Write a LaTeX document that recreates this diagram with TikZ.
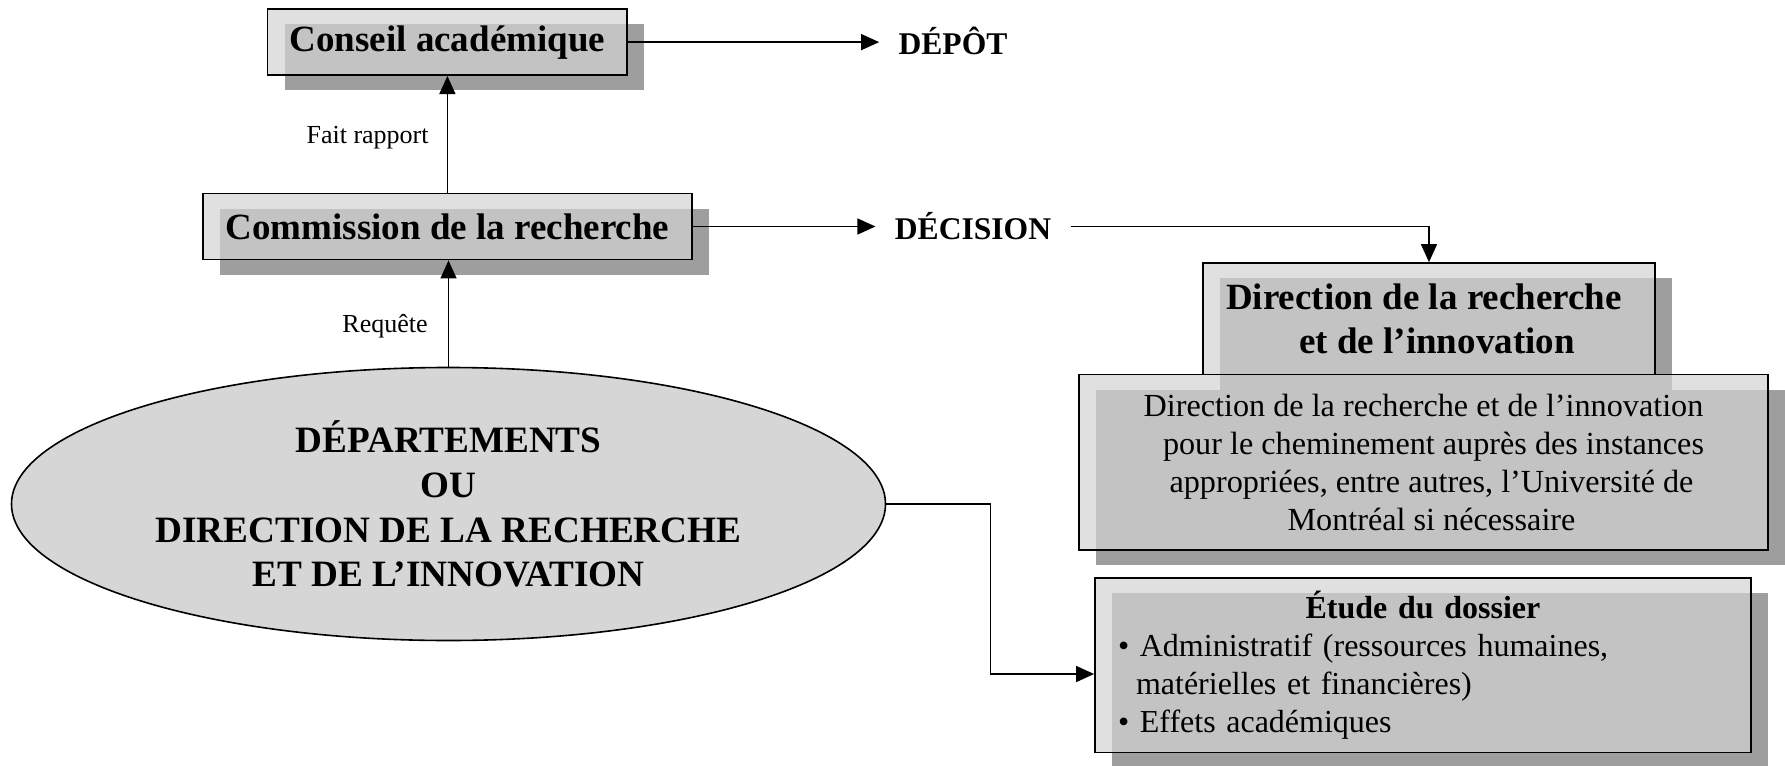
\documentclass[tikz,border=0pt]{standalone}
\usepackage{fontspec}
\setmainfont{Liberation Serif}
\usetikzlibrary{shapes.geometric,shadows,arrows.meta}
\definecolor{boxfill}{RGB}{211,211,211}
\definecolor{shadowgray}{RGB}{158,158,158}
\definecolor{ellfill}{RGB}{214,214,214}
\begin{document}
\begin{tikzpicture}[x=0.5pt,y=-0.5pt,
 box/.style={draw=black, line width=0.9pt, fill=boxfill, fill opacity=0.7, text opacity=1, inner sep=0pt,
   drop shadow={shadow xshift=8.5pt, shadow yshift=-7.5pt, fill=shadowgray, opacity=1}},
 title/.style={font=\fontsize{18.5}{21.6}\selectfont\bfseries},
 body/.style={font=\fontsize{16.1}{19}\selectfont},
 outcome/.style={font=\fontsize{15.8}{18}\selectfont\bfseries, inner xsep=9.5pt, inner ysep=0pt},
 lab/.style={font=\fontsize{13}{15}\selectfont, anchor=east, inner sep=0pt},
 conn/.style={line width=0.7pt, -{Triangle[length=9pt,width=8pt]}}
]
\useasboundingbox (0,0) rectangle (1785,766);

\node[box,title,minimum width=179.9pt,minimum height=33pt] (conseil) at (447.4,42.1) {Conseil académique};
\node[box,title,minimum width=244.8pt,minimum height=33pt] (comm) at (447.4,226.5) {Commission de la recherche};
\node[outcome] (depot) at (953,41) {DÉPÔT};
\node[outcome] (dec) at (973,226.5) {DÉCISION};

\node[box,title,align=center,minimum width=226pt,minimum height=55.75pt] (dirtop) at (1429,318.8)
  {Direction de la recherche\hspace*{5pt}\\\hspace*{8pt}et de l’innovation};
\node[box,body,align=center,minimum width=344.5pt,minimum height=87.75pt] (dirbot) at (1423.5,462.3)
  {Direction de la recherche et de l’innovation\\\hspace*{10pt}pour le cheminement auprès des instances\\\hspace*{8pt}appropriées, entre autres, l’Université de\\\hspace*{8pt}Montréal si nécessaire};
\node[box,font=\fontsize{16}{19}\selectfont,text width=305pt,align=left,inner xsep=11.5pt,minimum height=87.25pt] (etude) at (1423,665.3)
  {\makebox[305pt][c]{\bfseries Étude du dossier}\\
   •~Administratif (ressources humaines,\\
   \hspace*{9pt}matérielles et financières)\\
   •~Effets académiques};

\node[ellipse,draw=black,line width=0.8pt,fill=ellfill,minimum width=437pt,minimum height=136.5pt,
  inner sep=0pt,font=\fontsize{18.6}{22.4}\selectfont\bfseries,align=center] (dept) at (448.5,504)
  {DÉPARTEMENTS\\OU\\DIRECTION DE LA RECHERCHE\\ET DE L’INNOVATION};

\node[lab] (fait) at (429,137.7) {Fait rapport};
\node[lab] (req) at (428,326.7) {Requête};

\draw[conn] (conseil.east) -- (conseil.east -| depot.west);
\draw[conn] (comm.east) -- (comm.east -| dec.west);
\draw[conn] (dec.east) -| (dirtop.north);
\draw[conn] (dept.north) -- (dept.north |- comm.south);
\draw[conn] (comm.north) -- (comm.north |- conseil.south);
\coordinate (bend) at (990.4,674);
\draw[conn] (dept.east) -| (bend) -- (bend -| etude.west);
\end{tikzpicture}
\end{document}
